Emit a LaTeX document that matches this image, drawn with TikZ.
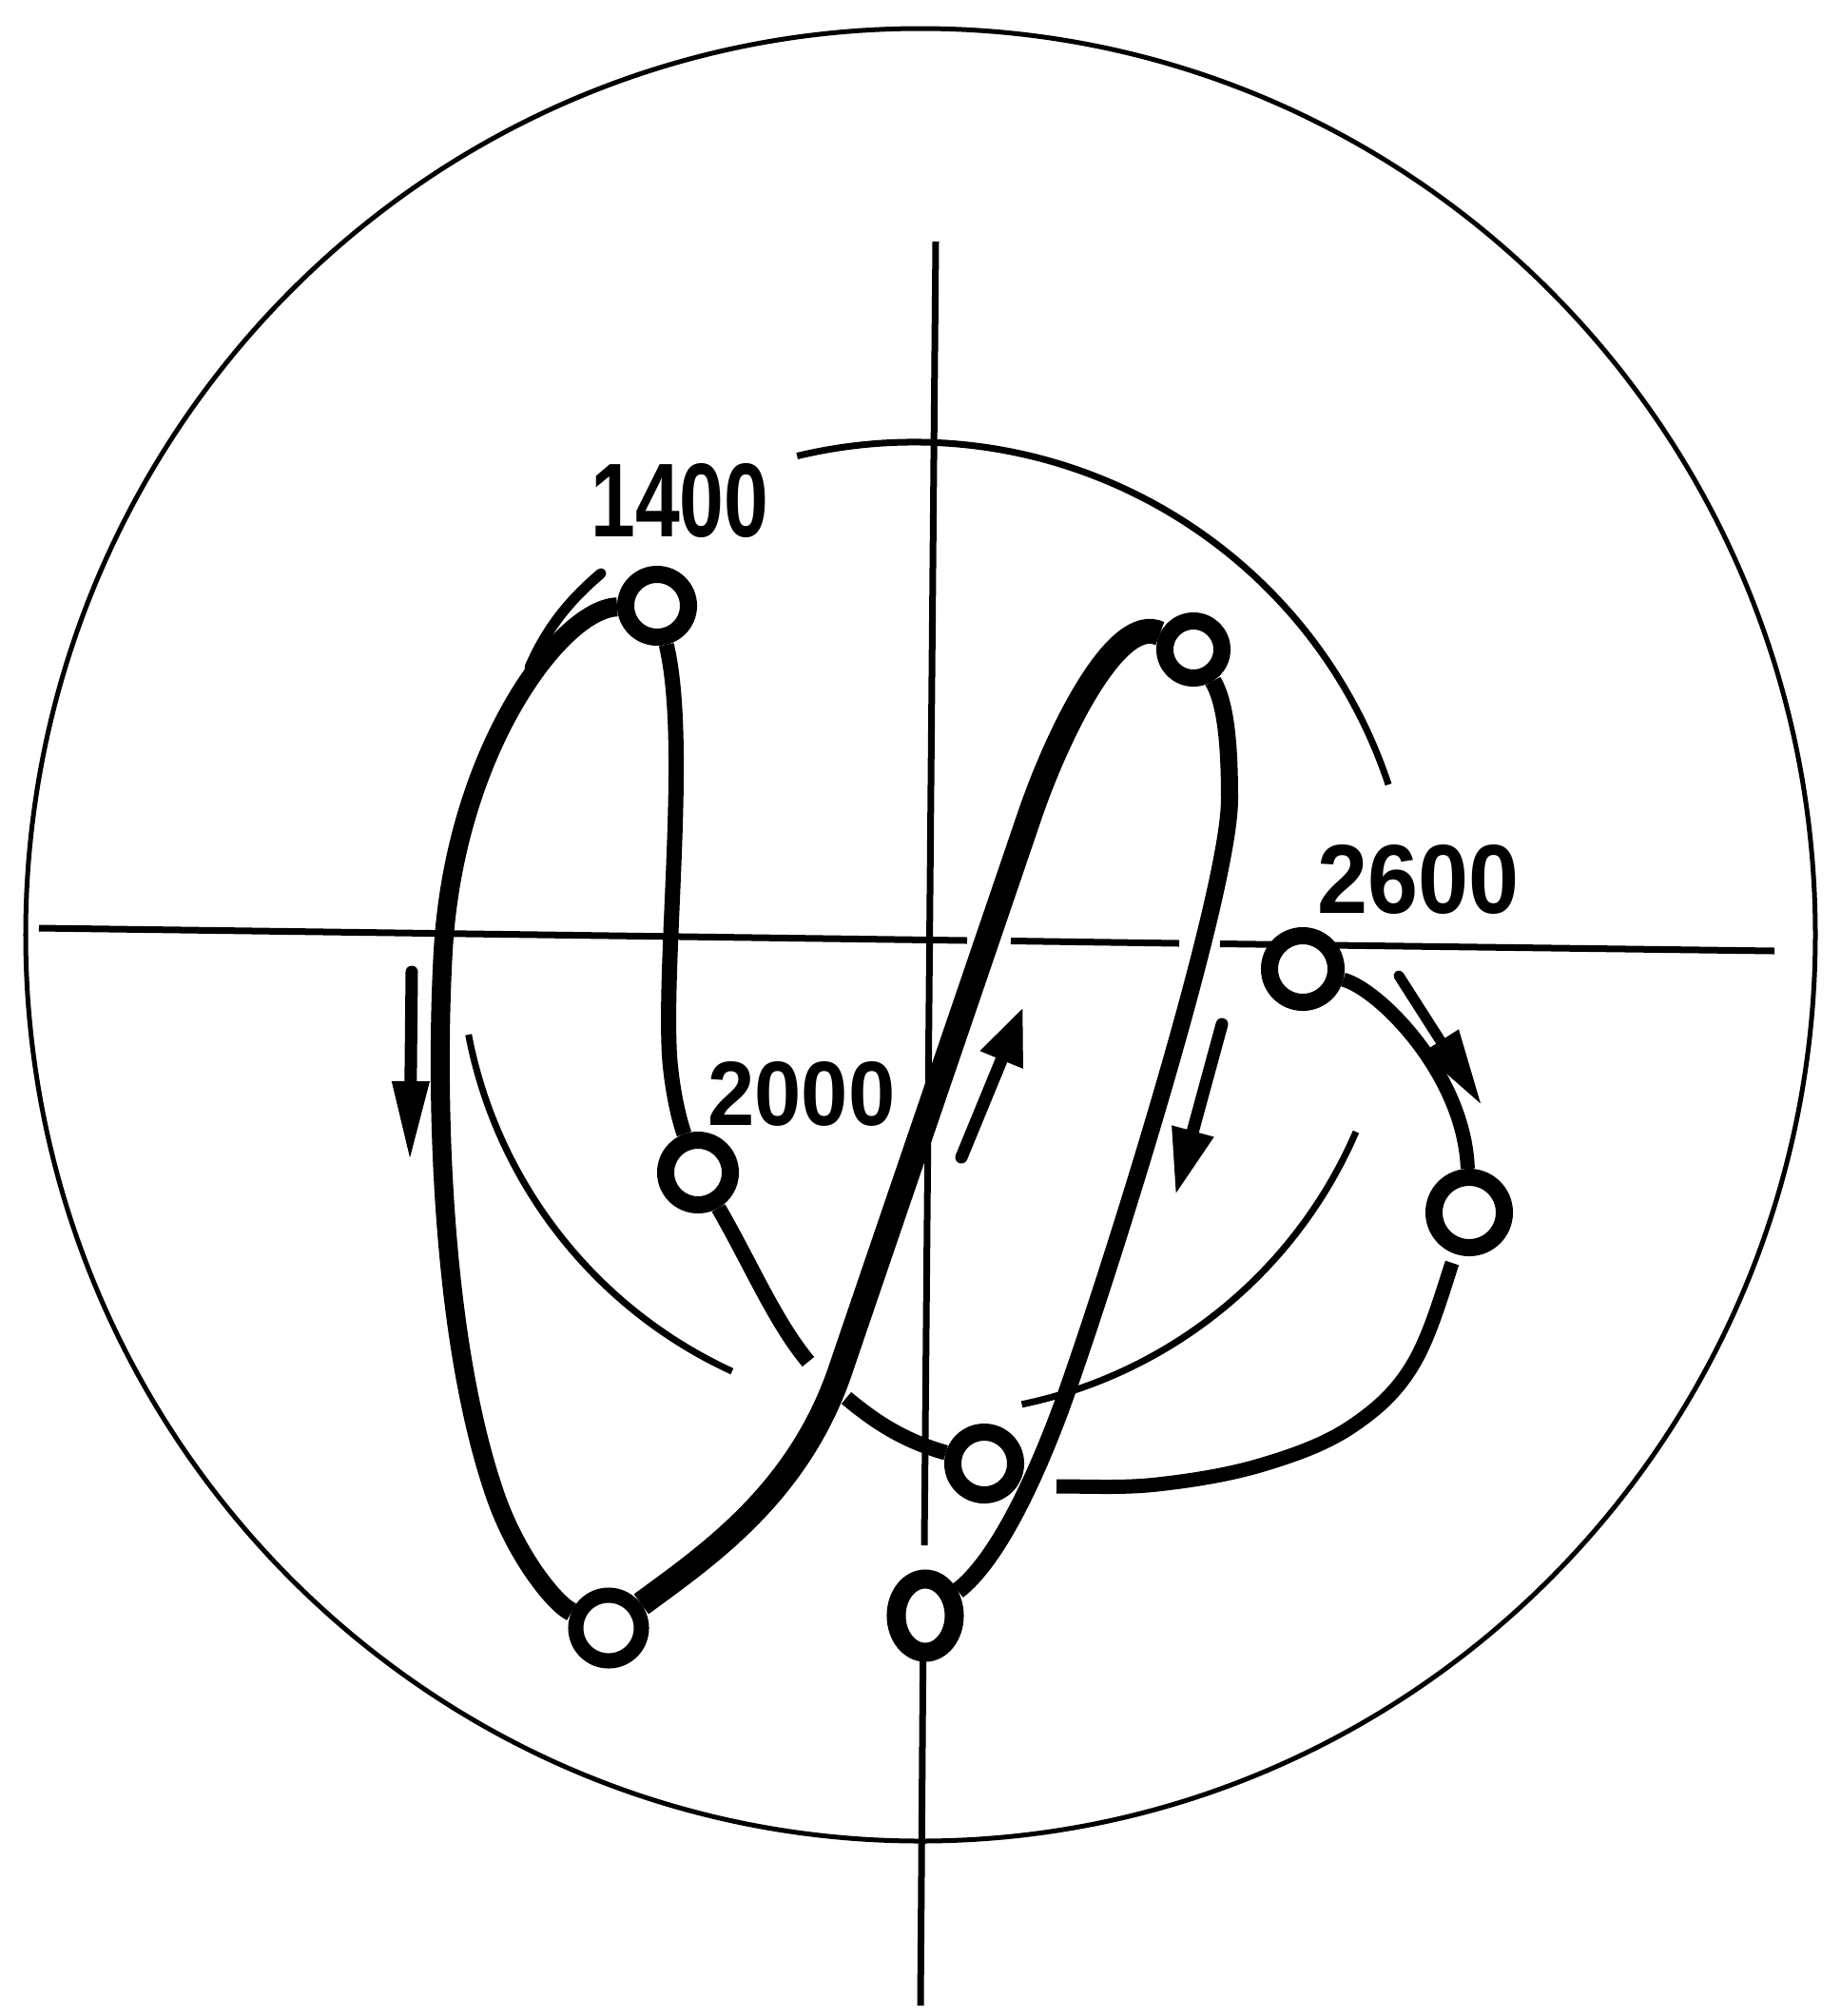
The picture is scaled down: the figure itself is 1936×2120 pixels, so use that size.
\documentclass[tikz,border=0pt]{standalone}
\usepackage{fontspec}
\usepackage{graphicx}
\setmainfont{Liberation Sans}
\usetikzlibrary{arrows.meta,shapes.geometric}
\tikzset{
  rimline/.style={line width=0.05cm},
  thinline/.style={line width=0.07cm},
  ring/.style={circle, draw, fill=white, line width=0.18cm, minimum size=0.66cm, inner sep=0pt},
  ovalring/.style={ellipse, draw, fill=white, line width=0.2cm, minimum width=0.61cm, minimum height=0.77cm, inner sep=0pt},
  lab/.style={inner sep=0pt},
  curveA/.style={line width=0.2cm},
  curveB/.style={line width=0.26cm},
  curveC/.style={line width=0.18cm},
  curveD/.style={line width=0.16cm},
  curveE/.style={line width=0.16cm},
  curveF/.style={line width=0.15cm},
  curveG/.style={line width=0.15cm},
  sidestroke/.style={line width=0.11cm, line cap=round},
  dirarrow/.style={line width=0.13cm, line cap=round}
}
\begin{document}
\begin{tikzpicture}[x=0.01cm,y=-0.01cm]
\useasboundingbox (0,0) rectangle (1936,2120);
% outer circle
\draw[rimline] (968,983) ellipse [x radius=941, y radius=953];
% axes
\draw[thinline] (41,976) -- (1017,989);
\draw[thinline] (1063,989.5) -- (1240,992);
\draw[thinline] (1283,992.5) -- (1866,1000);
\draw[thinline] (984,254) -- (972,1625);
\draw[thinline] (971,1700) -- (968,2109);
% thin arcs
\draw[thinline] (961,991) ++(-103.5:526) arc[start angle=-103.5, end angle=-18.4, radius=526];
\draw[thinline] (975,996) ++(-190.8:491) arc[start angle=-190.8, end angle=-245.3, radius=491];
\draw[thinline] (975,996) ++(78.3:491) arc[start angle=78.3, end angle=23.3, radius=491];
\coordinate (s1) at (632,603);
\coordinate (s2) at (557,702);
\draw[sidestroke] (s1) .. controls (600,630) and (575,660) .. (s2);
% data points
\node[ring] (p1) at (691,637) {};
\node[ring, minimum size=0.6cm] (p2) at (1255,683) {};
\node[ring, minimum size=0.7cm] (p3) at (1370,1019) {};
\node[ring, minimum size=0.74cm] (p4) at (1545,1275) {};
\node[ring, minimum size=0.68cm] (p5) at (734,1233) {};
\node[ring] (p6) at (1035,1539) {};
\node[ring, minimum size=0.69cm, line width=0.16cm] (p7) at (640,1712) {};
\node[ovalring] (p8) at (973,1699) {};
% labels
\node[lab] (t1400) at (715,527) {\resizebox{1.87cm}{0.77cm}{\bfseries 1400}};
\node[lab] (t2000) at (843,1150) {\resizebox{1.97cm}{0.67cm}{\bfseries 2000}};
\node[lab] (t2600) at (1492,925) {\resizebox{2.12cm}{0.72cm}{\bfseries 2600}};
% connectors
\draw[curveA] (p1) .. controls (590,640) and (478,790) .. (466,1000)
  .. controls (458,1140) and (462,1400) .. (520,1570)
  .. controls (543,1638) and (585,1688) .. (p7);
\draw[curveB] (p7) .. controls (745,1635) and (840,1570) .. (884,1440)
  .. controls (918,1340) and (1049,957) .. (1083,857)
  .. controls (1114,767) and (1175,645) .. (p2);
\draw[curveC] (p2) .. controls (1290,740) and (1293,790) .. (1293,840)
  .. controls (1293,940) and (1160,1360) .. (1115,1483)
  .. controls (1090,1550) and (1050,1640) .. (p8);
\draw[curveD] (p1) .. controls (725,780) and (698,1000) .. (704,1110)
  .. controls (707,1150) and (715,1180) .. (p5);
\coordinate (e1) at (850,1432);
\coordinate (e2) at (890,1470);
\draw[curveE] (p5) .. controls (790,1330) and (815,1390) .. (e1);
\draw[curveE] (e2) .. controls (920,1495) and (950,1515) .. (p6);
\draw[curveF] (p3) .. controls (1450,1040) and (1540,1130) .. (p4);
\coordinate (gend) at (1111,1563);
\draw[curveG, shorten <=0.1cm] (p4) .. controls (1518,1355) and (1505,1402) .. (1487,1433)
  .. controls (1469,1464) and (1447,1483) .. (1420,1501)
  .. controls (1393,1519) and (1359,1531) .. (1325,1541)
  .. controls (1291,1551) and (1253,1557) .. (1217,1561)
  .. controls (1181,1565) and (1146,1563) .. (gend);
% direction arrows
\coordinate (a1s) at (433,1022);
\coordinate (a1e) at (431,1222);
\draw[dirarrow, -{Triangle[length=0.85cm,width=0.36cm]}] (a1s) -- (a1e);
\coordinate (a2s) at (1011,1217);
\coordinate (a2e) at (1076,1059);
\draw[dirarrow, -{Triangle[length=0.6cm,width=0.45cm]}] (a2s) -- (a2e);
\coordinate (a3s) at (1285,1077);
\coordinate (a3e) at (1236,1257);
\draw[dirarrow, -{Triangle[length=0.7cm,width=0.42cm]}] (a3s) -- (a3e);
\coordinate (a4s) at (1471,1026);
\coordinate (a4e) at (1558,1162);
\draw[dirarrow, line width=0.11cm, -{Triangle[length=0.8cm,width=0.42cm]}] (a4s) -- (a4e);
\end{tikzpicture}
\end{document}
